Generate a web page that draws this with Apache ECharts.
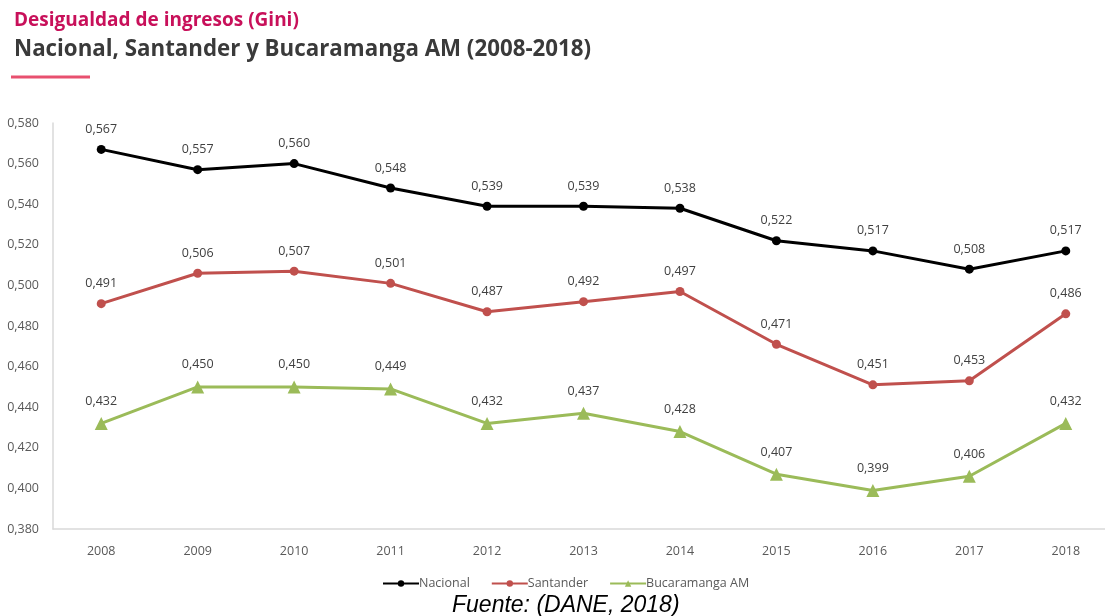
<!DOCTYPE html>
<html>
<head>
<meta charset="utf-8">
<script src="https://cdn.jsdelivr.net/npm/echarts@6/dist/echarts.min.js"></script>
<style>
  html, body { margin: 0; padding: 0; background: #fff; }
  #chart { width: 1105px; height: 616px; }
</style>
</head>
<body>
<div id="chart"></div>
<script>
// Coeficiente de Gini por año
const years = ['2008','2009','2010','2011','2012','2013','2014','2015','2016','2017','2018'];
const nacional = [0.567, 0.557, 0.560, 0.548, 0.539, 0.539, 0.538, 0.522, 0.517, 0.508, 0.517];
const santander = [0.491, 0.506, 0.507, 0.501, 0.487, 0.492, 0.497, 0.471, 0.451, 0.453, 0.486];
const bucaramanga = [0.432, 0.450, 0.450, 0.449, 0.432, 0.437, 0.428, 0.407, 0.399, 0.406, 0.432];

const fmt = v => v.toFixed(3).replace('.', ',');

const chart = echarts.init(document.getElementById('chart'));

function lineSeries(name, data, color, symbol, size) {
  return {
    name, type: 'line', data,
    symbol, symbolSize: size,
    itemStyle: { color },
    lineStyle: { color, width: 3 },
    label: {
      show: true, position: 'top', distance: 9,
      color: '#404040', fontSize: 12.5, fontFamily: 'Open Sans',
      formatter: p => fmt(p.value)
    },
    animation: false
  };
}

chart.setOption({
  animation: false,
  title: [
    { text: 'Desigualdad de ingresos (Gini)', left: 9, top: 6,
      textStyle: { color: '#c8105a', fontSize: 19, fontWeight: 'bold', fontFamily: 'Open Sans' } },
    { text: 'Nacional, Santander y Bucaramanga AM (2008-2018)', left: 9, top: 34,
      textStyle: { color: '#3a3a3a', fontSize: 22.3, fontWeight: 'bold', fontFamily: 'Open Sans' } },
    { text: 'Fuente: (DANE, 2018)', left: 447, top: 589,
      textStyle: { color: '#000', fontSize: 23, fontWeight: 'normal', fontStyle: 'italic', fontFamily: 'Liberation Sans' } }
  ],
  graphic: [
    { type: 'line', shape: { x1: 11, y1: 77, x2: 90, y2: 77 },
      style: { stroke: '#e8506f', lineWidth: 3 } }
  ],
  legend: {
    top: 572, left: 377,
    itemWidth: 36, itemHeight: 8, itemGap: 21,
    textStyle: { color: '#595959', fontSize: 12.5, fontFamily: 'Open Sans', padding: [0, 0, 0, -5] },
    data: ['Nacional', 'Santander', 'Bucaramanga AM']
  },
  grid: { left: 53, width: 1061, top: 123, bottom: 87, containLabel: false, outerBoundsMode: 'none' },
  xAxis: {
    type: 'category', data: years, boundaryGap: true,
    axisLine: { lineStyle: { color: '#d9d9d9', width: 1.5 } },
    axisTick: { show: false },
    axisLabel: { color: '#595959', fontSize: 12.5, fontFamily: 'Open Sans', margin: 16 }
  },
  yAxis: {
    type: 'value', min: 0.38, max: 0.58, interval: 0.02,
    axisLine: { show: true, lineStyle: { color: '#d9d9d9', width: 1.5 } },
    axisTick: { show: false },
    splitLine: { show: false },
    axisLabel: { color: '#595959', fontSize: 12.5, fontFamily: 'Open Sans', margin: 14,
      formatter: v => fmt(v) }
  },
  series: [
    lineSeries('Nacional', nacional, '#000000', 'circle', 9),
    lineSeries('Santander', santander, '#c0504d', 'circle', 9),
    lineSeries('Bucaramanga AM', bucaramanga, '#9bbb59', 'triangle', 13)
  ]
});
</script>
</body>
</html>
